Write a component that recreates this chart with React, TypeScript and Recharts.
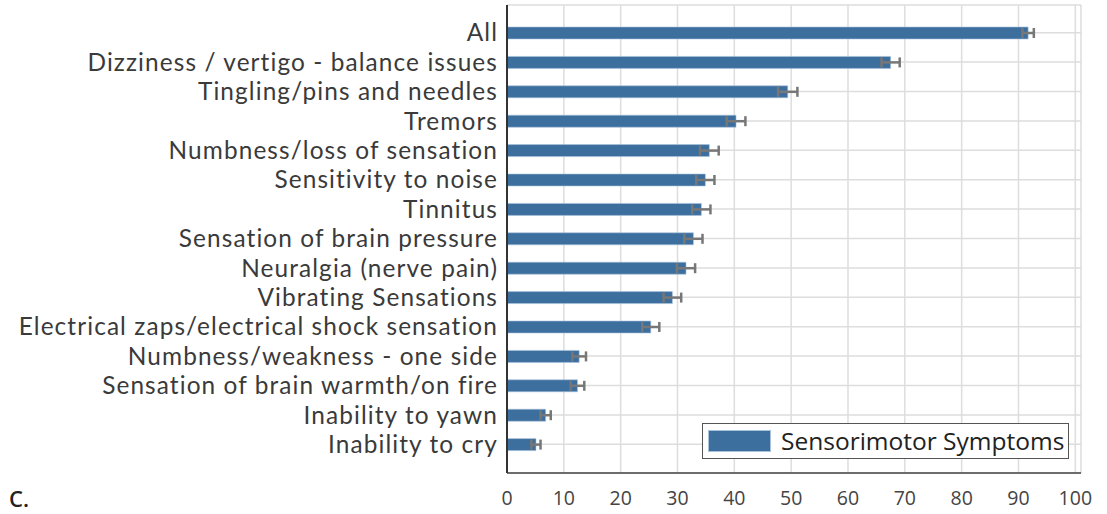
import React from 'react';
import { BarChart, Bar, XAxis, YAxis, CartesianGrid, ErrorBar } from 'recharts';

const categories = [
  'All',
  'Dizziness / vertigo - balance issues',
  'Tingling/pins and needles',
  'Tremors',
  'Numbness/loss of sensation',
  'Sensitivity to noise',
  'Tinnitus',
  'Sensation of brain pressure',
  'Neuralgia (nerve pain)',
  'Vibrating Sensations',
  'Electrical zaps/electrical shock sensation',
  'Numbness/weakness - one side',
  'Sensation of brain warmth/on fire',
  'Inability to yawn',
  'Inability to cry',
];
const values = [91.7, 67.5, 49.4, 40.3, 35.6, 34.9, 34.2, 32.8, 31.5, 29.1, 25.3, 12.7, 12.4, 6.8, 5.1];
const errors = [1.0, 1.6, 1.7, 1.65, 1.65, 1.6, 1.6, 1.6, 1.6, 1.55, 1.5, 1.2, 1.2, 0.9, 0.8];
const xTicks = [0, 10, 20, 30, 40, 50, 60, 70, 80, 90, 100];
const seriesName = 'Sensorimotor Symptoms';

const rows = categories.map((label, i) => ({ label, value: values[i], err: errors[i] }));

const BLUE = '#3c6e9e';
const FONT = '"Open Sans", "Noto Sans", sans-serif';
const LABEL_FONT = 'Lato, "Open Sans", sans-serif';

export default function App() {
  return (
    <div style={{ position: 'relative', width: 1107, height: 514, background: '#fff', fontFamily: FONT, overflow: 'hidden' }}>
      <style>{'body{margin:0}'}</style>
      <BarChart
        width={1107}
        height={514}
        data={rows}
        layout="vertical"
        margin={{ top: 5, right: 26, bottom: 0, left: 0 }}
      >
        <CartesianGrid stroke="#dddddd" strokeWidth={1.5} />
        <XAxis
          type="number"
          domain={[0, 101]}
          ticks={xTicks}
          height={41}
          axisLine={{ stroke: '#444', strokeWidth: 1.5 }}
          tickLine={false}
          tickSize={0}
          tickMargin={18}
          tick={{ fill: '#444', fontSize: 19.5, fontFamily: FONT }}
        />
        <YAxis
          type="category"
          dataKey="label"
          width={507}
          padding={{ top: 13, bottom: 14 }}
          axisLine={{ stroke: '#333', strokeWidth: 2 }}
          tickLine={false}
          tickSize={0}
          tickMargin={9}
          interval={0}
          tick={{ fill: '#3a3a3a', fontSize: 24.4, fontFamily: LABEL_FONT, letterSpacing: 1.1 }}
        />
        <Bar dataKey="value" fill={BLUE} stroke="#a9c2dc" strokeWidth={0.6} barSize={12} isAnimationActive={false}>
          <ErrorBar dataKey="err" direction="x" width={5} stroke="#777" strokeWidth={2.5} />
        </Bar>
      </BarChart>
      <div
        style={{
          position: 'absolute', left: 702, top: 423, width: 367, height: 36, boxSizing: 'border-box',
          border: '1.5px solid #555', background: '#fff', display: 'flex', alignItems: 'center',
        }}
      >
        <div style={{ width: 63, height: 22, marginLeft: 5, background: BLUE, border: '1px solid #a9c2dc', boxSizing: 'border-box', flexShrink: 0 }} />
        <span style={{ marginLeft: 10, fontSize: 24.5, color: '#222', whiteSpace: 'nowrap', lineHeight: 1 }}>{seriesName}</span>
      </div>
      <div style={{ position: 'absolute', left: 9, top: 487, fontSize: 22, lineHeight: 1, fontWeight: 600, color: '#222' }}>C.</div>
    </div>
  );
}
